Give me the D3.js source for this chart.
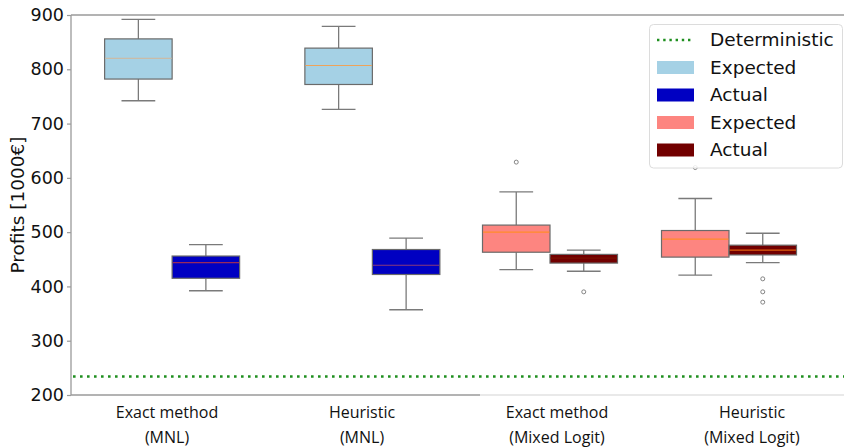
<!DOCTYPE html>
<html>
<head>
<meta charset="utf-8">
<script src="https://cdn.jsdelivr.net/npm/d3@7"></script>
<style>
  html, body { margin: 0; padding: 0; background: #fff; }
  svg { display: block; }
</style>
</head>
<body>
<svg id="chart" width="844" height="448"></svg>
<script>
// ---------------- data ----------------
const groups = ["Exact method (MNL)", "Heuristic (MNL)", "Exact method (Mixed Logit)", "Heuristic (Mixed Logit)"];
const labelLine1 = ["Exact method", "Heuristic", "Exact method", "Heuristic"];
const labelLine2 = ["(MNL)", "(MNL)", "(Mixed Logit)", "(Mixed Logit)"];
// [lower whisker, Q1, median, Q3, upper whisker]
const expectedStats = [
  [742, 782, 820, 856, 892],
  [726, 772, 807, 839, 879],
  [431, 463, 500, 513, 574],
  [421, 454, 487, 503, 562]
];
const actualStats = [
  [392, 415, 444, 456, 477],
  [357, 422, 439, 468, 489],
  [428, 443, 452, 459, 467],
  [444, 458, 467, 476, 498]
];
const expectedOutliers = [[], [], [629], [619]];
const actualOutliers = [[], [], [390], [414, 390, 371]];
const deterministicValue = 234;
const yTicks = [200, 300, 400, 500, 600, 700, 800, 900];
const legendLabels = ["Deterministic", "Expected", "Actual", "Expected", "Actual"];

(function () {
// ---------------- styling ----------------
const expectedColors = ["#a5d1e5", "#a5d1e5", "#fd8580", "#fd8580"];
const actualColors = ["#0000c2", "#0000c2", "#720000", "#720000"];
const medianColors = ["#c9bca8", "#eea35a", "#ff8c2a", "#ff8c2a"];
const medianColorsActual = ["#9a2a5a", "#8a3a7a", "#7a1000", "#e06010"];

const svg = d3.select("#chart");
const mLeft = 71, mTop = 15, mRight = 844, mBottom = 395;

const y = d3.scaleLinear().domain([200, 900]).range([mBottom, mTop]);

// the figure is made of two panels (MNL / Mixed Logit) placed side by side
const xLeft = d3.scaleBand().domain(groups.slice(0, 2)).range([72, 472.5]).paddingInner(0).paddingOuter(0);
const xRight = d3.scaleBand().domain(groups.slice(2)).range([460.5, 818.5]).paddingInner(0).paddingOuter(0);
const xCenter = g => {
  const s = xLeft.domain().includes(g) ? xLeft : xRight;
  return s(g) + s.bandwidth() / 2;
};
const boxW = 67.5;

// label row
const xLabel = d3.scalePoint().domain(groups).range([167, 752]);

// ---------------- spines ----------------
svg.append("line").attr("x1", mLeft).attr("x2", mRight).attr("y1", mTop).attr("y2", mTop)
  .attr("stroke", "#9a9a9a").attr("stroke-width", 1.3);
svg.append("line").attr("x1", mLeft).attr("x2", mLeft).attr("y1", mTop).attr("y2", mBottom)
  .attr("stroke", "#9a9a9a").attr("stroke-width", 1.3);
svg.append("line").attr("x1", mLeft).attr("x2", 480).attr("y1", mBottom).attr("y2", mBottom)
  .attr("stroke", "#9a9a9a").attr("stroke-width", 1.3);
svg.append("line").attr("x1", 480).attr("x2", mRight).attr("y1", mBottom).attr("y2", mBottom)
  .attr("stroke", "#e2e2e2").attr("stroke-width", 1.3);

// ---------------- y axis ----------------
const yAxis = d3.axisLeft(y).tickValues(yTicks).tickSize(4).tickPadding(3);
const ya = svg.append("g").attr("transform", `translate(${mLeft},0)`).call(yAxis);
ya.select(".domain").remove();
ya.selectAll(".tick line").attr("stroke", "#9a9a9a").attr("stroke-width", 1.2);
ya.selectAll(".tick text").attr("fill", "#111").style("font-family", "DejaVu Sans")
  .style("font-size", "17.5px");

svg.append("text")
  .attr("transform", `translate(24,${(mTop + mBottom) / 2}) rotate(-90)`)
  .attr("text-anchor", "middle")
  .style("font-family", "DejaVu Sans").style("font-size", "18.5px").attr("fill", "#111")
  .text("Profits [1000€]");

// ---------------- x labels ----------------
const xl = svg.append("g");
groups.forEach((g, i) => {
  const t = xl.append("text").attr("text-anchor", "middle")
    .style("font-family", "Open Sans").style("font-size", "16px").attr("fill", "#111");
  t.append("tspan").attr("x", xLabel(g)).attr("y", 418).text(labelLine1[i]);
  t.append("tspan").attr("x", xLabel(g)).attr("y", 443).text(labelLine2[i]);
});

// ---------------- deterministic line ----------------
svg.append("line").attr("x1", mLeft + 2).attr("x2", mRight).attr("y1", y(deterministicValue)).attr("y2", y(deterministicValue))
  .attr("stroke", "#1f8f1f").attr("stroke-width", 2.6).attr("stroke-dasharray", "2.6,4.4");

// ---------------- boxes ----------------
function drawBox(x0, stats, fill, medColor, outliers) {
  const [lo, q1, med, q3, hi] = stats;
  const cx = x0 + boxW / 2;
  const g = svg.append("g");
  const wc = "#7a7a7a";
  g.append("line").attr("x1", cx).attr("x2", cx).attr("y1", y(hi)).attr("y2", y(q3)).attr("stroke", wc).attr("stroke-width", 1.3);
  g.append("line").attr("x1", cx).attr("x2", cx).attr("y1", y(q1)).attr("y2", y(lo)).attr("stroke", wc).attr("stroke-width", 1.3);
  g.append("line").attr("x1", cx - boxW / 4).attr("x2", cx + boxW / 4).attr("y1", y(hi)).attr("y2", y(hi)).attr("stroke", wc).attr("stroke-width", 1.3);
  g.append("line").attr("x1", cx - boxW / 4).attr("x2", cx + boxW / 4).attr("y1", y(lo)).attr("y2", y(lo)).attr("stroke", wc).attr("stroke-width", 1.3);
  g.append("rect").attr("x", x0).attr("y", y(q3)).attr("width", boxW).attr("height", y(q1) - y(q3))
    .attr("fill", fill).attr("stroke", "#6a6a6a").attr("stroke-width", 1.2);
  g.append("line").attr("x1", x0 + 0.6).attr("x2", x0 + boxW - 0.6).attr("y1", y(med)).attr("y2", y(med))
    .attr("stroke", medColor).attr("stroke-width", 1.2);
  outliers.forEach(o => {
    g.append("circle").attr("cx", cx).attr("cy", y(o)).attr("r", 2)
      .attr("fill", "none").attr("stroke", "#777").attr("stroke-width", 0.9);
  });
}

groups.forEach((g, i) => {
  const c = xCenter(g);
  drawBox(c - boxW, expectedStats[i], expectedColors[i], medianColors[i], expectedOutliers[i]);
  drawBox(c, actualStats[i], actualColors[i], medianColorsActual[i], actualOutliers[i]);
});

// ---------------- legend ----------------
const lg = svg.append("g");
lg.append("rect").attr("x", 649.5).attr("y", 24.5).attr("width", 193).attr("height", 143.5).attr("rx", 4)
  .attr("fill", "#fff").attr("fill-opacity", 0.85).attr("stroke", "#dcdcdc").attr("stroke-width", 1);
const legendColors = [null, "#a5d1e5", "#0000c2", "#fd8580", "#720000"];
const legendY = d3.scalePoint().domain(d3.range(legendLabels.length)).range([40, 150]);
legendLabels.forEach((lab, i) => {
  const yy = legendY(i);
  if (i === 0) {
    lg.append("line").attr("x1", 657).attr("x2", 694).attr("y1", yy).attr("y2", yy)
      .attr("stroke", "#1f8f1f").attr("stroke-width", 2.6).attr("stroke-dasharray", "2.4,3.8");
  } else {
    lg.append("rect").attr("x", 657).attr("y", yy - 6.5).attr("width", 37).attr("height", 13)
      .attr("fill", legendColors[i]);
  }
  lg.append("text").attr("x", 710).attr("y", yy).attr("dy", "0.35em")
    .style("font-family", "DejaVu Sans").style("font-size", "18.5px").attr("fill", "#111")
    .text(lab);
});
})();
</script>
</body>
</html>
